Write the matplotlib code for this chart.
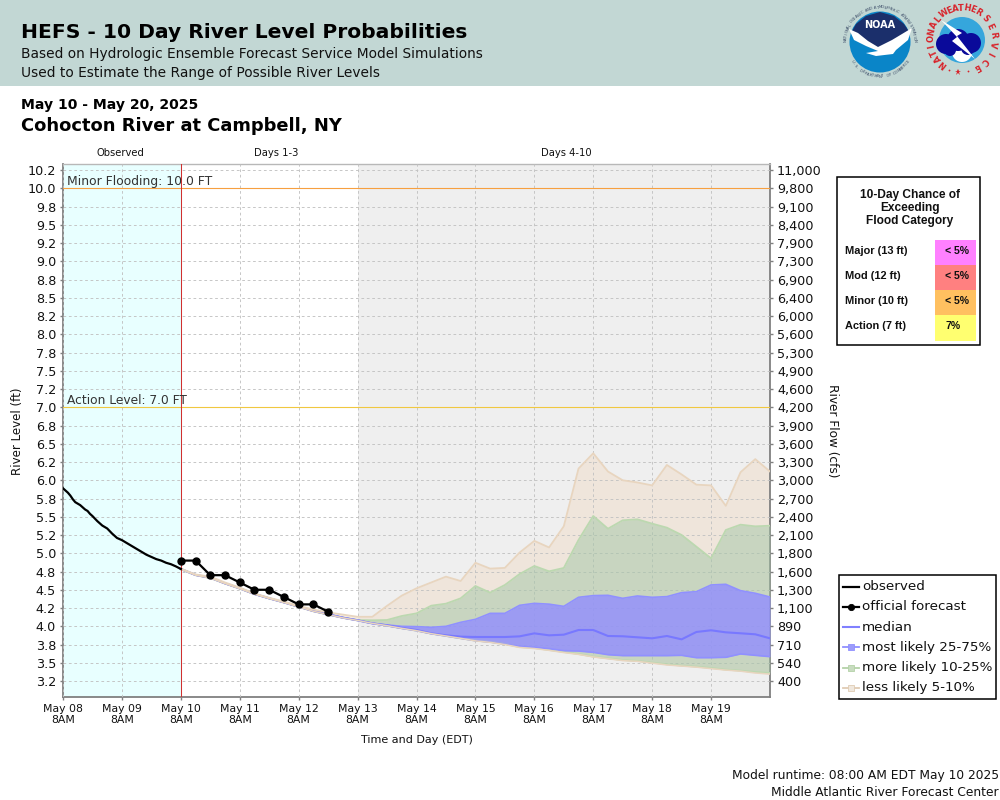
import numpy as np
import matplotlib
matplotlib.use("Agg")
import matplotlib.pyplot as plt
from matplotlib.patches import Circle, Polygon, Rectangle
from matplotlib.lines import Line2D

# observed stage, hours after May 08 8AM
obs_hours = [0, 1, 2, 3, 4, 5, 6, 7, 8, 9, 10, 11, 12, 14, 16, 18, 20, 22, 24, 26, 28, 30, 32, 34, 36, 38, 40, 42, 44, 46, 48]
obs_stage = [5.89, 5.86, 5.83, 5.79, 5.74, 5.70, 5.68, 5.66, 5.63, 5.60, 5.58, 5.54, 5.51, 5.44, 5.38, 5.34, 5.27, 5.21,
             5.18, 5.14, 5.10, 5.06, 5.02, 4.98, 4.95, 4.92, 4.90, 4.87, 4.85, 4.82, 4.785]

# official forecast, 6 hourly from May 10 8AM
fcst_stage = [4.9, 4.9, 4.7, 4.7, 4.6, 4.5, 4.5, 4.4, 4.3, 4.3, 4.2]

# HEFS percentiles, 6 hourly from May 10 8AM to May 20 8AM
p95 = [4.79, 4.71, 4.68, 4.60, 4.53, 4.45, 4.39, 4.34, 4.28, 4.23, 4.19, 4.16, 4.13, 4.13, 4.28, 4.42, 4.52, 4.60, 4.68, 4.62, 4.87,
       4.79, 4.80, 5.01, 5.17, 5.08, 5.37, 6.16, 6.37, 6.12, 6.00, 5.97, 5.93, 6.21, 6.08, 5.94, 5.93, 5.65, 6.11, 6.29, 6.12]
p90 = [4.785, 4.703, 4.666, 4.588, 4.52, 4.442, 4.383, 4.328, 4.269, 4.21, 4.165, 4.12, 4.086, 4.082, 4.086, 4.141, 4.177, 4.282, 4.31, 4.383, 4.552,
       4.461, 4.566, 4.716, 4.826, 4.753, 4.799, 5.182, 5.511, 5.337, 5.452, 5.465, 5.406, 5.351, 5.251, 5.091, 4.931, 5.319, 5.392, 5.369, 5.378]
p75 = [4.785, 4.703, 4.666, 4.588, 4.52, 4.442, 4.383, 4.328, 4.269, 4.209, 4.164, 4.118, 4.082, 4.04, 4.018, 3.999, 3.995, 3.986, 3.999, 4.054, 4.095,
       4.177, 4.177, 4.287, 4.314, 4.303, 4.273, 4.397, 4.42, 4.424, 4.383, 4.415, 4.397, 4.406, 4.461, 4.474, 4.566, 4.575, 4.488, 4.452, 4.401]
p50 = [4.785, 4.703, 4.666, 4.588, 4.52, 4.442, 4.383, 4.328, 4.269, 4.209, 4.164, 4.118, 4.082, 4.04, 4.013, 3.977, 3.949, 3.903, 3.876, 3.858, 3.853,
       3.853, 3.853, 3.862, 3.903, 3.876, 3.885, 3.949, 3.949, 3.867, 3.863, 3.849, 3.835, 3.867, 3.821, 3.922, 3.945, 3.917, 3.904, 3.89, 3.835]
p25 = [4.785, 4.703, 4.666, 4.588, 4.52, 4.442, 4.383, 4.328, 4.269, 4.209, 4.164, 4.118, 4.082, 4.04, 4.008, 3.972, 3.94, 3.899, 3.867, 3.835, 3.803,
       3.785, 3.757, 3.725, 3.712, 3.693, 3.666, 3.661, 3.643, 3.611, 3.598, 3.598, 3.598, 3.598, 3.602, 3.57, 3.57, 3.575, 3.621, 3.602, 3.584]
p10 = [4.78, 4.70, 4.66, 4.585, 4.515, 4.44, 4.38, 4.325, 4.265, 4.205, 4.16, 4.115, 4.08, 4.04, 4.008, 3.972, 3.94, 3.899, 3.867, 3.835, 3.803,
       3.785, 3.757, 3.716, 3.703, 3.675, 3.648, 3.62, 3.584, 3.561, 3.538, 3.525, 3.502, 3.479, 3.461, 3.447, 3.429, 3.406, 3.392, 3.374, 3.36]
p05 = [4.78, 4.70, 4.66, 4.585, 4.515, 4.44, 4.38, 4.325, 4.265, 4.205, 4.16, 4.115, 4.08, 4.04, 4.008, 3.972, 3.94, 3.899, 3.867, 3.835, 3.80,
       3.78, 3.75, 3.71, 3.695, 3.67, 3.64, 3.615, 3.58, 3.555, 3.53, 3.52, 3.495, 3.47, 3.455, 3.44, 3.42, 3.40, 3.385, 3.36, 3.345]

stage_ticks = [10.25, 10.0, 9.75, 9.5, 9.25, 9.0, 8.75, 8.5, 8.25, 8.0, 7.75, 7.5, 7.25, 7.0, 6.75, 6.5, 6.25, 6.0, 5.75,
               5.5, 5.25, 5.0, 4.75, 4.5, 4.25, 4.0, 3.75, 3.5, 3.25]
flow_labels = ["11,000", "9,800", "9,100", "8,400", "7,900", "7,300", "6,900", "6,400", "6,000", "5,600", "5,300", "4,900",
               "4,600", "4,200", "3,900", "3,600", "3,300", "3,000", "2,700", "2,400", "2,100", "1,800", "1,600", "1,300",
               "1,100", "890", "710", "540", "400"]
day_labels = ["May 08", "May 09", "May 10", "May 11", "May 12", "May 13", "May 14", "May 15", "May 16", "May 17", "May 18", "May 19"]

category_names = ["Major (13 ft)", "Mod (12 ft)", "Minor (10 ft)", "Action (7 ft)"]
category_chance = ["< 5%", "< 5%", "< 5%", "7%"]
category_colors = ["#FF80FF", "#FF8080", "#FFC060", "#FFFF70"]

W, H = 1000, 800
fig = plt.figure(figsize=(10, 8), dpi=100, facecolor="white")


def fx(px):
    return px / W


def fy(py):
    return 1 - py / H


def ftext(px, py, s, **kw):
    fig.text(fx(px), fy(py), s, **kw)


# page background, header band and logos live in one full figure axes
bg = fig.add_axes([0, 0, 1, 1], zorder=0)
bg.set_xlim(0, W)
bg.set_ylim(H, 0)
bg.axis("off")
bg.add_patch(Rectangle((0, 0), W, 86, color="#C2D7D4", lw=0))


def ring_text(cx, cy, r, s, start, stop, inward=False, **kw):
    # text along a circle, angles in degrees counter clockwise from east
    for ch, a in zip(s, np.linspace(start, stop, len(s))):
        t = np.deg2rad(a)
        rot = a + 90 if inward else a - 90
        bg.text(cx + r * np.cos(t), cy - r * np.sin(t), ch, rotation=rot, ha="center", va="center",
                rotation_mode="anchor", **kw)


# NOAA logo
bg.add_patch(Circle((880, 42), 30.5, color="#0A85C8", lw=0))
bg.add_patch(Polygon([[851, 33], [856, 24], [866, 16], [880, 12], [894, 16], [904, 24], [910, 33], [895, 42], [880, 50], [866, 42]],
                     color="#1B2F6B", lw=0))
bg.add_patch(Polygon([[849, 29], [858, 33], [868, 41], [878, 47], [892, 40], [912, 28], [908, 40], [896, 50], [893, 54], [876, 56],
                      [866, 53], [878, 51], [866, 46], [854, 40]], color="white", lw=0))
bg.text(880, 25, "NOAA", color="white", fontsize=7, fontweight="bold", ha="center", va="center")
ring_text(880, 42, 34.5, "NATIONAL OCEANIC AND ATMOSPHERIC ADMINISTRATION", 178, 2, fontsize=2.7, color="#3A4A66")
ring_text(880, 42, 34.5, "U.S. DEPARTMENT OF COMMERCE", 215, 325, inward=True, fontsize=2.7, color="#3A4A66")

# NWS logo
bg.add_patch(Circle((962, 40), 23, color="#35A6DC", lw=0))
bg.add_patch(Circle((962, 52), 10, color="white", lw=0))
for c in [(946, 44, 10), (958, 40, 11), (971, 43, 10), (950, 50, 6), (968, 48, 7)]:
    bg.add_patch(Circle(c[:2], c[2], color="#0A0A9A", lw=0))
bg.add_patch(Polygon([[941, 20], [962, 33], [957, 36], [975, 59], [952, 41], [957, 37]], color="white", lw=0))
ring_text(962, 39, 31, "NATIONAL", 232, 140, fontsize=6, fontweight="bold", color="#D8232A")
ring_text(962, 39, 31, "WEATHER", 125, 58, fontsize=6, fontweight="bold", color="#D8232A")
ring_text(962, 39, 31, "SERVICE", 42, -62, fontsize=6, fontweight="bold", color="#D8232A")
bg.plot([958], [72], marker="*", color="#D8232A", ms=4.5, mew=0)
bg.plot([949, 968, 976], [70, 71, 68], ls="none", marker="o", ms=1.3, color="#D8232A", mew=0)

ftext(21, 33, "HEFS - 10 Day River Level Probabilities", fontsize=14.55, fontweight="bold", color="black", va="center")
ftext(21, 54, "Based on Hydrologic Ensemble Forecast Service Model Simulations", fontsize=9.95, color="#111111", va="center")
ftext(21, 73, "Used to Estimate the Range of Possible River Levels", fontsize=9.95, color="#111111", va="center")
ftext(21, 105, "May 10 - May 20, 2025", fontsize=10.1, fontweight="bold", color="black", va="center")
ftext(21, 126, "Cohocton River at Campbell, NY", fontsize=12.87, fontweight="bold", color="black", va="center")

# main plot
left, right, top, bottom = 63, 770, 164.3, 697.3
ax = fig.add_axes([fx(left), fy(bottom), fx(right - left), (bottom - top) / H], zorder=2)
ax.set_xlim(0, 12)
ax.set_ylim(3.027, 10.329)

t_fc = 2 + np.arange(len(p50)) * 0.25
t_off = 2 + np.arange(len(fcst_stage)) * 0.25
t_obs = np.array(obs_hours) / 24

ax.axvspan(0, 2, color="#E8FFFF", lw=0, zorder=0)
ax.axvspan(5, 12, color="#EFEFEF", lw=0, zorder=0)
ax.grid(True, color="#C2C2C2", ls=(0, (3, 3)), lw=0.65, zorder=1)

ax.fill_between(t_fc, p05, p95, color="#EFDDC9", alpha=0.5, lw=0, zorder=2)
ax.fill_between(t_fc, p10, p90, color="#A3C6A6", alpha=0.5, lw=0, zorder=3)
ax.fill_between(t_fc, p25, p75, color="#918DFF", alpha=0.8, lw=0, zorder=4)
ax.plot(t_fc, p90, color="#BCD8B0", lw=1.3, zorder=5)
ax.plot(t_fc, p10, color="#BCD8B0", lw=1.3, zorder=4)
ax.plot(t_fc, p75, color="#9090FF", lw=1.2, zorder=6)
ax.plot(t_fc, p25, color="#9090FF", lw=1.2, zorder=6)
ax.plot(t_fc, p50, color="#7878FF", lw=1.5, zorder=7)
ax.plot(t_fc, p95, color="#E8D5BF", lw=1.3, zorder=8)
ax.plot(t_fc, p05, color="#E8D5BF", lw=1.1, zorder=8)

ax.axhline(10.0, color="#F7A040", lw=0.8, zorder=8)
ax.axhline(7.0, color="#F0C840", lw=0.8, zorder=8)
ax.axvline(2, color="#D03030", lw=0.75, zorder=8)
ax.text(0.07, 10.0 + 0.09, "Minor Flooding: 10.0 FT", fontsize=8.95, color="#333333", va="center", zorder=9)
ax.text(0.07, 7.0 + 0.09, "Action Level: 7.0 FT", fontsize=8.87, color="#333333", va="center", zorder=9)

ax.plot(t_obs, obs_stage, color="black", lw=1.6, zorder=10)
ax.plot(t_off, fcst_stage, color="black", lw=1.6, marker="o", ms=5, zorder=11)

ax.set_xticks(np.arange(12))
ax.set_xticklabels([d + "\n8AM" for d in day_labels], fontsize=7.8, linespacing=1.15)
ax.set_yticks(stage_ticks)
ax.set_yticklabels(["%.1f" % v for v in stage_ticks], fontsize=9.2)
ax.tick_params(axis="both", color="#808080", length=2.5, width=1, pad=2.5, labelcolor="#111111")
for s in ["left", "bottom", "right"]:
    ax.spines[s].set_color("#808080")
    ax.spines[s].set_linewidth(1.3)
ax.spines["top"].set_color("#B8B8B8")
ax.spines["top"].set_linewidth(1.0)
ax.set_axisbelow(False)

ax2 = ax.twinx()
ax2.set_zorder(3)
ax2.set_ylim(ax.get_ylim())
ax2.set_yticks(stage_ticks)
ax2.set_yticklabels(flow_labels, fontsize=9.2)
ax2.tick_params(axis="y", color="#808080", length=2.5, width=1, pad=2.5, labelcolor="#111111")
for s in ax2.spines.values():
    s.set_visible(False)

ftext(120, 153.5, "Observed", fontsize=7.2, ha="center", va="center", color="#111111")
ftext(276, 153.5, "Days 1-3", fontsize=7.2, ha="center", va="center", color="#111111")
ftext(566, 153.5, "Days 4-10", fontsize=7.2, ha="center", va="center", color="#111111")
ftext(417, 740, "Time and Day (EDT)", fontsize=8.0, ha="center", va="center", color="#111111")
ftext(18, 431, "River Level (ft)", fontsize=8.6, rotation=90, ha="center", va="center", color="#111111")
ftext(832, 431, "River Flow (cfs)", fontsize=8.7, rotation=270, ha="center", va="center", color="#111111")

ftext(999, 776, "Model runtime: 08:00 AM EDT May 10 2025", fontsize=8.8, ha="right", va="center", color="#111111")
ftext(999, 792, "Middle Atlantic River Forecast Center", fontsize=8.8, ha="right", va="center", color="#111111")

# flood category box
box = fig.add_axes([0, 0, 1, 1], zorder=4)
box.set_xlim(0, W)
box.set_ylim(H, 0)
box.axis("off")
box.patch.set_alpha(0)
box.add_patch(Rectangle((836.7, 176.7), 143.3, 168.3, fc="white", ec="black", lw=1.1))
for line, py in zip(["10-Day Chance of", "Exceeding", "Flood Category"], [195, 208, 221]):
    box.text(910, py, line, family="Liberation Sans", fontsize=8.6, fontweight="bold", ha="center", va="center", color="#111111")
cat_tops = [240, 265, 290, 315]
cat_bottoms = [265, 290, 315, 341]
for name, chance, col, t, b in zip(category_names, category_chance, category_colors, cat_tops, cat_bottoms):
    box.add_patch(Rectangle((935, t), 41, b - t, color=col, lw=0))
    box.text(845, t + 11, name, family="Liberation Sans", fontsize=7.9, fontweight="bold", ha="left", va="center", color="#111111")
    box.text(945, t + 11, chance, family="Liberation Sans", fontsize=7.6, fontweight="bold", ha="left", va="center", color="#111111")

# legend, drawn by hand so the rows land where they do in the chart
box.add_patch(Rectangle((839.4, 575), 156.3, 124, fc="white", ec="black", lw=1.1))
rows = [("observed", "#000000", None, None, 1.6),
        ("official forecast", "#000000", "o", "#000000", 1.6),
        ("median", "#8080FF", None, None, 1.5),
        ("most likely 25-75%", "#9090FF", "s", "#9C9CFA", 1.3),
        ("more likely 10-25%", "#B4D2A8", "s", "#C8DCC0", 1.3),
        ("less likely 5-10%", "#E0CCB4", "s", "#F0E8DE", 1.3)]
for i, (name, col, mk, mfc, lw) in enumerate(rows):
    py = 586.8 + i * 20.2
    box.add_line(Line2D([843, 851, 858.5], [py, py, py], color=col, lw=lw, marker=mk, markevery=[1], ms=4.5, mfc=mfc, mec=col, mew=0.6))
    box.text(862, py, name, fontsize=9.7, ha="left", va="center", color="#111111")

fig.savefig("out.png", dpi=100)
